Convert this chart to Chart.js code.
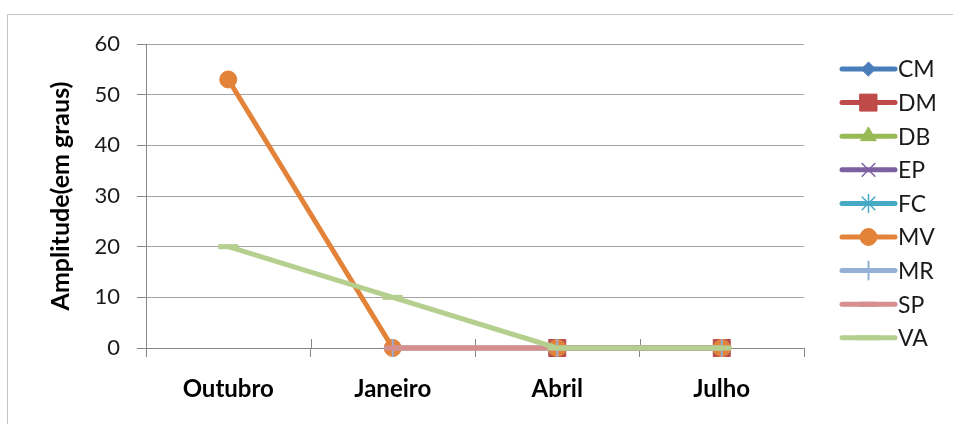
<!DOCTYPE html>
<html>
<head>
<meta charset="utf-8">
<script src="https://cdn.jsdelivr.net/npm/chart.js@4.4.1/dist/chart.umd.min.js"></script>
<style>
  html, body { margin: 0; padding: 0; background: #ffffff; }
  #wrap { width: 953px; height: 424px; }
</style>
</head>
<body>
<div id="wrap"><canvas id="c" width="953" height="424"></canvas></div>
<script>
// Categories (months) and the amplitude series, in degrees
const months = ['Outubro', 'Janeiro', 'Abril', 'Julho'];
const seriesNames = ['CM', 'DM', 'DB', 'EP', 'FC', 'MV', 'MR', 'SP', 'VA'];
const CM = [null, null, 0, 0];
const DM = [null, null, 0, 0];
const DB = [null, null, 0, 0];
const EP = [null, null, 0, 0];
const FC = [null, null, 0, 0];
const MV = [53, 0, 0, 0];
const MR = [null, 0, 0, 0];
const SP = [null, 0, 0, 0];
const VA = [20, 10, 0, 0];
const yTicks = [0, 10, 20, 30, 40, 50, 60];

const seriesValues = [CM, DM, DB, EP, FC, MV, MR, SP, VA];

// Look of each series: colour, marker shape and marker size
const styles = [
  { color: '#4A7EBB', point: 'rectRot',  radius: 7,  bw: 1 },
  { color: '#BE4B48', point: 'rect',     radius: 12, bw: 1 },
  { color: '#98B954', point: 'triangle', radius: 9,  bw: 1 },
  { color: '#7D60A0', point: 'crossRot', radius: 9,  bw: 1.5 },
  { color: '#46AAC5', point: 'star',     radius: 9,  bw: 1.5 },
  { color: '#E3833A', point: 'circle',   radius: 8.5, bw: 1 },
  { color: '#94B0D6', point: 'cross',    radius: 9,  bw: 2 },
  { color: '#D68F8E', point: 'line',     radius: 8,  bw: 5 },
  { color: '#B5CF8E', point: 'line',     radius: 10, bw: 5 }
];

const FONT = 'Lato, Calibri, Carlito, sans-serif';

const datasets = seriesNames.map((name, i) => ({
  label: name,
  data: seriesValues[i],
  borderColor: styles[i].color,
  backgroundColor: styles[i].color,
  borderWidth: 5,
  borderCapStyle: 'round',
  borderJoinStyle: 'round',
  tension: 0,
  spanGaps: false,
  clip: false,
  pointStyle: styles[i].point,
  pointRadius: styles[i].radius,
  pointHoverRadius: styles[i].radius,
  pointBorderWidth: styles[i].bw,
  pointBorderColor: styles[i].color,
  pointBackgroundColor: styles[i].color,
  order: seriesNames.length - 1 - i   // later series drawn on top
}));

// Outer frame and white background
const framePlugin = {
  id: 'frame',
  beforeDraw(chart) {
    const ctx = chart.ctx;
    ctx.save();
    ctx.fillStyle = '#ffffff';
    ctx.fillRect(0, 0, chart.width, chart.height);
    ctx.strokeStyle = '#C4C4C4';
    ctx.lineWidth = 1;
    ctx.beginPath();
    ctx.moveTo(7.5, chart.height + 2);
    ctx.lineTo(7.5, 14.5);
    ctx.lineTo(chart.width + 2, 14.5);
    ctx.stroke();
    ctx.restore();
  }
};

// Category tick marks crossing the horizontal axis (upper half)
const crossTicksPlugin = {
  id: 'crossTicks',
  beforeDatasetsDraw(chart) {
    const x = chart.scales.x;
    const ctx = chart.ctx;
    const y0 = chart.chartArea.bottom;
    ctx.save();
    ctx.strokeStyle = '#878787';
    ctx.lineWidth = 1;
    for (let i = 1; i < months.length; i++) {
      const px = Math.round((x.getPixelForValue(i - 1) + x.getPixelForValue(i)) / 2) + 0.5;
      ctx.beginPath();
      ctx.moveTo(px, y0 - 9);
      ctx.lineTo(px, y0);
      ctx.stroke();
    }
    ctx.restore();
  }
};

// Legend on the right: line sample with the series marker, then the name
const sideLegendPlugin = {
  id: 'sideLegend',
  afterDraw(chart) {
    const ctx = chart.ctx;
    const x0 = 842, x1 = 895, top = 69, step = 33.6;
    ctx.save();
    chart.data.datasets.forEach((ds, i) => {
      const y = top + i * step;
      ctx.strokeStyle = ds.borderColor;
      ctx.lineWidth = 5;
      ctx.lineCap = 'round';
      ctx.beginPath();
      ctx.moveTo(x0, y);
      ctx.lineTo(x1, y);
      ctx.stroke();
      ctx.fillStyle = ds.pointBackgroundColor;
      ctx.strokeStyle = ds.pointBorderColor;
      ctx.lineWidth = ds.pointBorderWidth;
      Chart.helpers.drawPoint(ctx, {
        pointStyle: ds.pointStyle,
        radius: ds.pointRadius,
        rotation: 0,
        borderWidth: ds.pointBorderWidth
      }, (x0 + x1) / 2, y);
      ctx.fillStyle = '#1a1a1a';
      ctx.font = '23px ' + FONT;
      ctx.textAlign = 'left';
      ctx.textBaseline = 'middle';
      ctx.fillText(ds.label, 898, y + 1);
    });
    ctx.restore();
  }
};

new Chart(document.getElementById('c'), {
  type: 'line',
  data: { labels: months, datasets },
  plugins: [framePlugin, crossTicksPlugin, sideLegendPlugin],
  options: {
    responsive: false,
    animation: false,
    events: [],
    layout: { padding: { left: 0, right: 149, top: 44, bottom: 0 } },
    plugins: {
      legend: { display: false },
      tooltip: { enabled: false },
      title: { display: false }
    },
    scales: {
      x: {
        type: 'category',
        offset: true,
        grid: {
          offset: true,
          drawOnChartArea: false,
          drawTicks: true,
          tickLength: 9,
          color: '#878787'
        },
        border: { display: true, color: '#878787', width: 1 },
        ticks: {
          color: '#000000',
          font: { family: FONT, size: 24, weight: 'bold' },
          padding: 18,
          maxRotation: 0,
          autoSkip: false
        },
        afterFit(scale) { scale.height = 76; }
      },
      y: {
        min: 0,
        max: 60,
        afterBuildTicks(scale) { scale.ticks = yTicks.map(v => ({ value: v })); },
        grid: {
          color: '#A3A3A3',
          lineWidth: 1,
          drawTicks: true,
          tickLength: 9,
          tickColor: '#878787'
        },
        border: { display: true, color: '#878787', width: 1 },
        ticks: {
          color: '#1a1a1a',
          font: { family: FONT, size: 22 },
          padding: 17
        },
        title: {
          display: true,
          text: 'Amplitude(em graus)',
          color: '#000000',
          font: { family: FONT, size: 25, weight: 'bold' },
          padding: { top: 46, bottom: 0 }
        },
        afterFit(scale) { scale.width = 146; }
      }
    }
  }
});
</script>
</body>
</html>
